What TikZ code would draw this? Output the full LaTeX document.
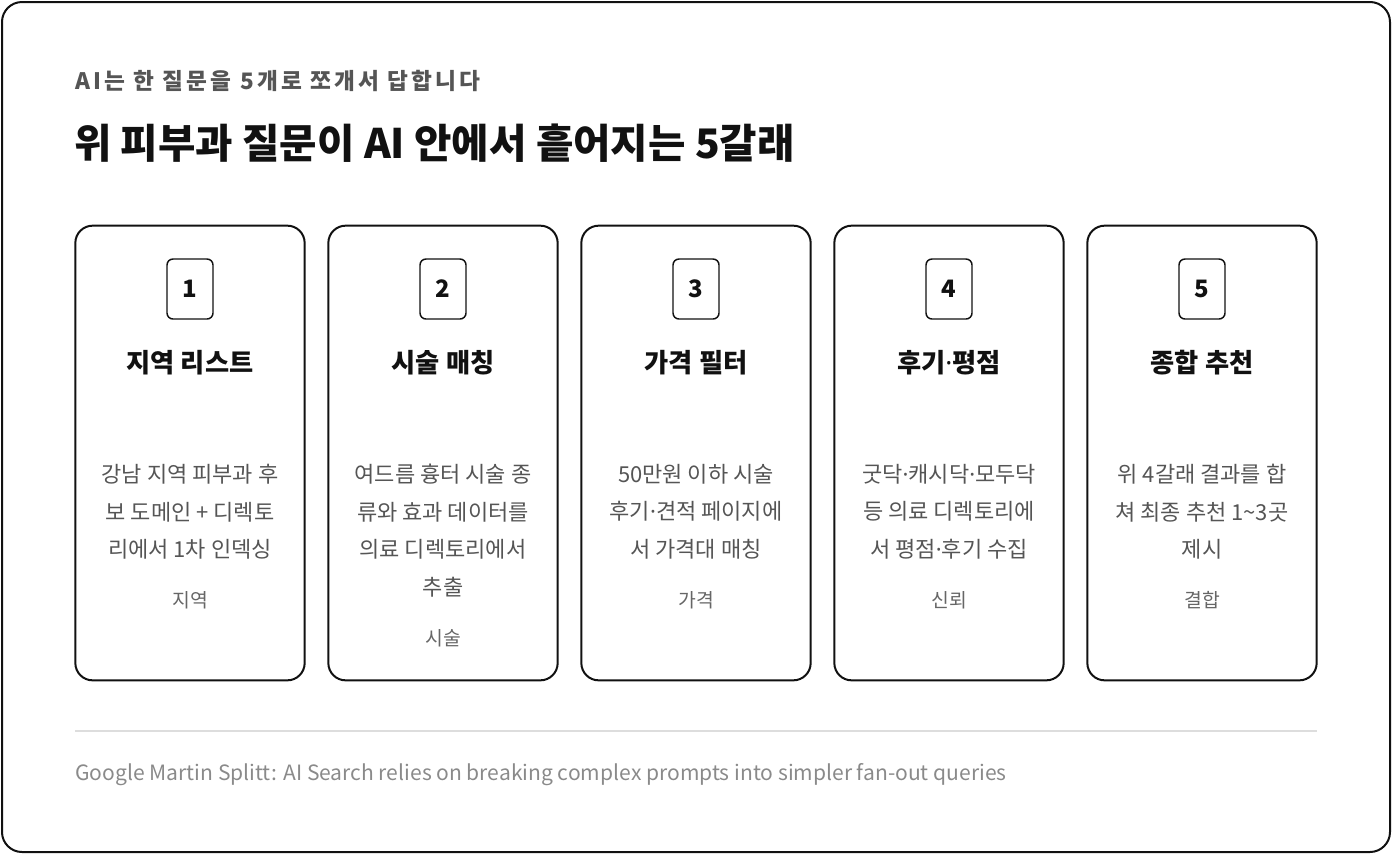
\documentclass[tikz,border=0pt]{standalone}
\usepackage{fontspec}
\setmainfont{Noto Sans CJK KR}
\newfontfamily\spacedfont{Noto Sans CJK KR}[LetterSpace=14]
\newfontfamily\dotfont{Noto Sans}
\newcommand{\mdot}{{\dotfont ·}}
\usetikzlibrary{positioning}
\definecolor{ink}{HTML}{111111}
\definecolor{subgray}{HTML}{555555}
\definecolor{taggray}{HTML}{666666}
\definecolor{footgray}{HTML}{8A8A8A}
\definecolor{rulegray}{HTML}{DDDDDD}
\tikzset{
  frame/.style={draw=ink, line width=1.5pt, rounded corners=15pt},
  card/.style={draw=ink, line width=1.5pt, rounded corners=13pt,
    minimum width=172pt, minimum height=341pt, inner sep=0pt},
  numbox/.style={draw=ink, line width=1.1pt, rounded corners=4.5pt,
    minimum width=34.5pt, minimum height=45pt, inner sep=0pt,
    font=\bfseries\fontsize{18}{18}\selectfont, text=ink},
  cardtitle/.style={font=\bfseries\fontsize{19.7}{22}\selectfont, text=ink},
  desc/.style={align=center, inner sep=0pt, text=subgray,
    font=\fontsize{16.5}{28.1}\selectfont},
  tag/.style={inner sep=0pt, text=taggray, font=\fontsize{14.5}{16}\selectfont},
}
\begin{document}
\begin{tikzpicture}[x=0.75pt,y=-0.75pt]
  \useasboundingbox (0,0) rectangle (1392,854);
  \draw[frame] (2,2) rectangle (1390,852);

  % heading
  \node[anchor=west, inner sep=0pt, text=subgray,
    font=\spacedfont\bfseries\fontsize{17}{19}\selectfont]
    (subtitle) at (75,81) {AI는 한 질문을 5개로 쪼개서 답합니다};
  \node[anchor=west, inner sep=0pt, text=ink,
    font=\bfseries\fontsize{30.5}{34}\selectfont]
    (title) at (74,143) {위 피부과 질문이 AI 안에서 흩어지는 5갈래};

  % five cards
  \foreach \i/\name/\body/\label in {
      1/지역 리스트/{강남 지역 피부과 후\\보 도메인 + 디렉토\\리에서 1차 인덱싱}/지역,
      2/시술 매칭/{여드름 흉터 시술 종\\류와 효과 데이터를\\의료 디렉토리에서\\추출}/시술,
      3/가격 필터/{50만원 이하 시술\\후기\mdot 견적 페이지에\\서 가격대 매칭}/가격,
      4/후기\mdot 평점/{굿닥\mdot 캐시닥\mdot 모두닥\\등 의료 디렉토리에\\서 평점\mdot 후기 수집}/신뢰,
      5/종합 추천/{위 4갈래 결과를 합\\쳐 최종 추천 1\textasciitilde3곳\\제시}/결합}{
    \pgfmathsetmacro{\cx}{190+253*(\i-1)}
    \node[card] (card\i) at (\cx,453) {};
    \node[numbox] (num\i) at (\cx,289) {\i};
    \node[cardtitle] (name\i) at (\cx,363) {\name};
    \node[desc, anchor=north] (desc\i) at (\cx,464) {\body};
    \node[tag, below=24pt of desc\i] (tag\i) {\label};
  }

  % source line
  \draw[rulegray, line width=0.9pt] (75,731) coordinate (ruleL) -- (1317,731) coordinate (ruleR);
  \node[anchor=west, inner sep=0pt, text=footgray,
    font=\fontsize{15.8}{18}\selectfont]
    (source) at (75,775) {Google Martin Splitt: AI Search relies on breaking complex prompts into simpler fan-out queries};
\end{tikzpicture}
\end{document}
